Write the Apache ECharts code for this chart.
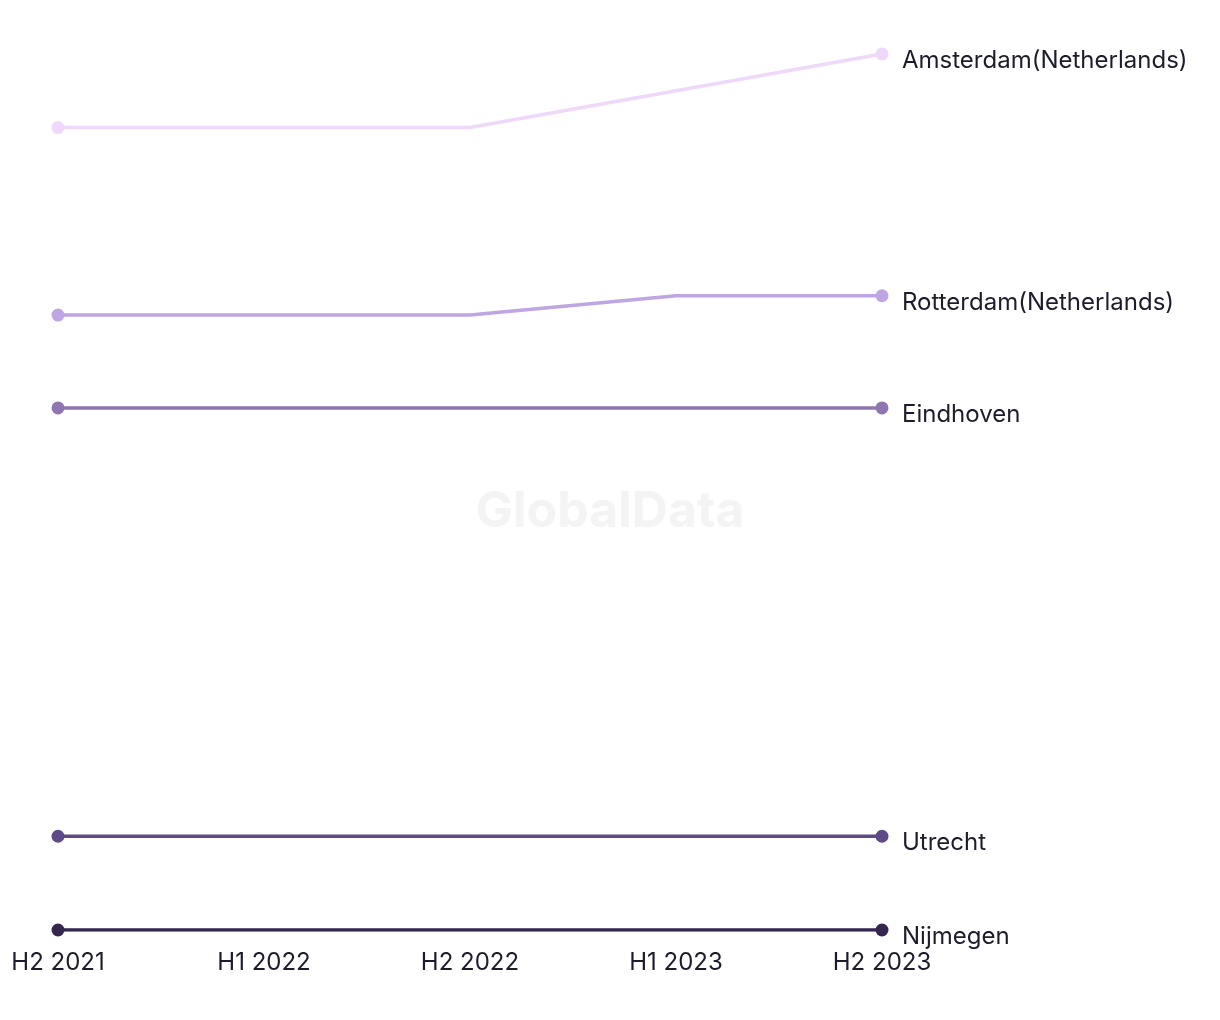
<!DOCTYPE html>
<html>
<head>
<meta charset="utf-8">
<script src="https://cdn.jsdelivr.net/npm/echarts@6/dist/echarts.min.js"></script>
<style>html,body{margin:0;padding:0;background:#fff;}#c{width:1220px;height:1020px;}</style>
</head>
<body>
<div id="c"></div>
<script>
const categories = ['H2 2021', 'H1 2022', 'H2 2022', 'H1 2023', 'H2 2023'];
const cityNames = ['Amsterdam(Netherlands)', 'Rotterdam(Netherlands)', 'Eindhoven', 'Utrecht', 'Nijmegen'];
const amsterdam = [91.6, 91.6, 91.6, 95.8, 100];
const rotterdam = [70.2, 70.2, 70.2, 72.4, 72.4];
const eindhoven = [59.6, 59.6, 59.6, 59.6, 59.6];
const utrecht = [10.7, 10.7, 10.7, 10.7, 10.7];
const nijmegen = [0, 0, 0, 0, 0];
const colors = ['#f0d8fb', '#bfa5e1', '#8f76b1', '#5f4a88', '#35264f'];
const seriesValues = [amsterdam, rotterdam, eindhoven, utrecht, nijmegen];

const chart = echarts.init(document.getElementById('c'));
const last = categories.length - 1;
const FONT = 'Inter, Roboto, "Liberation Sans", sans-serif';
chart.setOption({
  animation: false,
  grid: { left: 58, right: 338, top: 54, bottom: 90, containLabel: false },
  graphic: [{
    type: 'text', left: 'center', top: 487,
    style: { text: 'GlobalData', font: 'bold 50px Inter, "Liberation Sans", Arial, sans-serif', fill: '#f4f4f4' },
    z: -1
  }],
  xAxis: {
    type: 'category', data: categories, boundaryGap: false,
    axisLine: { show: false }, axisTick: { show: false }, splitLine: { show: false },
    axisLabel: { color: '#1c1c2c', fontSize: 24, margin: 21, fontFamily: FONT }
  },
  yAxis: { type: 'value', min: 0, max: 100, show: false, splitLine: { show: false } },
  series: seriesValues.map((vals, i) => ({
    name: cityNames[i],
    type: 'line',
    data: vals,
    symbol: 'circle',
    symbolSize: (v, p) => (p.dataIndex === 0 || p.dataIndex === last) ? 13 : 0,
    showAllSymbol: true,
    lineStyle: { color: colors[i], width: 3.5 },
    itemStyle: { color: colors[i] },
    endLabel: {
      show: true, formatter: '{a}', distance: 20, offset: [0, 7],
      color: '#1c1c2c', fontSize: 24, fontFamily: FONT
    },
    emphasis: { disabled: true }
  }))
});
</script>
</body>
</html>
